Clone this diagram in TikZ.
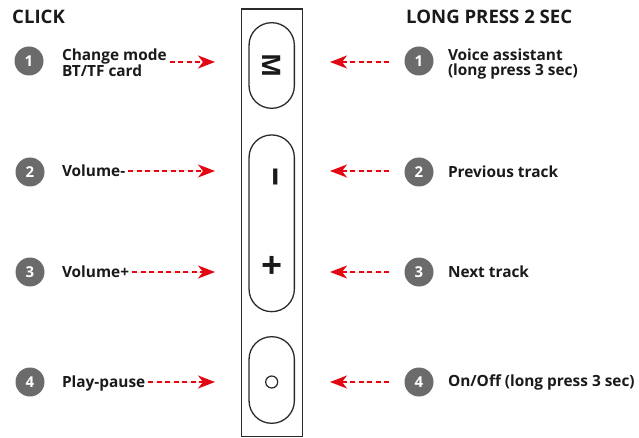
\documentclass[tikz,border=0pt]{standalone}
\usepackage{fontspec}
\setmainfont{Open Sans}
\usetikzlibrary{arrows.meta}
\definecolor{arrred}{HTML}{E30613}
\definecolor{dotgray}{HTML}{6B6B6B}
\definecolor{ink}{HTML}{1A1A1A}
\definecolor{frame}{HTML}{2B2B2B}

\begin{document}
\begin{tikzpicture}[x=1pt,y=-1pt,
  heading/.style={font=\bfseries\fontsize{18.6}{21}\selectfont, text=ink, inner sep=0, anchor=base west},
  label/.style={font=\bfseries\fontsize{15.4}{15.5}\selectfont, text=ink, inner sep=0, outer sep=3pt, anchor=west, align=left},
  badge/.style={circle, fill=dotgray, minimum size=29pt, inner sep=0, text=white, font=\bfseries\fontsize{15}{15}\selectfont},
  pointer/.style={draw=arrred, fill=arrred, line width=1.8pt, dash pattern=on 5pt off 3.5pt,
    -{Stealth[length=17pt,width=13pt,inset=5pt]}},
  button/.style={draw=frame, line width=1.3pt, rectangle, rounded corners=22.5pt, minimum width=45.3pt},
  glyph/.style={text=ink, inner sep=0}
]
\useasboundingbox (0,0) rectangle (639,438);

% device body
\draw[frame, line width=1.2pt] (241.3,9) rectangle (302.7,436.5);

% buttons
\node[button, minimum height=85.6pt] (bm) at (271.7,65.5) {};
\node[button, minimum height=176.7pt] (bvol) at (271.7,223.3) {};
\node[button, minimum height=86.6pt] (bpow) at (271.7,380) {};
\node[glyph, rotate=-90, font=\bfseries\fontsize{25.5}{25.5}\selectfont] (gm) at (271.7,66) {M};
\node[glyph, rotate=-90, font=\bfseries\fontsize{38}{38}\selectfont] (gminus) at (271.7,177) {–};
\node[glyph, font=\bfseries\fontsize{37}{37}\selectfont] (gplus) at (271.7,267) {+};
\node[draw=frame, line width=1.2pt, circle, minimum size=12pt, inner sep=0] (gpow) at (271.7,382) {};

% headings
\node[heading] (hclick) at (12,24) {CLICK};
\node[heading] (hlong) at (406,24) {LONG PRESS 2 SEC};

% left column
\node[badge] (n1) at (29,61) {1};
\node[badge] (n2) at (30,172) {2};
\node[badge] (n3) at (30,272) {3};
\node[badge] (n4) at (30,382) {4};
\node[label] (l1) at (59,62.5) {Change mode\\BT/TF card};
\node[label] (l2) at (59,171) {Volume-};
\node[label] (l3) at (59,272) {Volume+};
\node[label, text depth=0pt] (l4) at (59,382) {Play-pause};

\coordinate (t1) at (215,62);
\coordinate (t2) at (215,171);
\coordinate (t3) at (215,272);
\coordinate (t4) at (215,382);
\draw[pointer] (l1.east |- t1) -- (t1);
\draw[pointer] (l2.east |- t2) -- (t2);
\draw[pointer] (l3.east |- t3) -- (t3);
\draw[pointer] (l4.east |- t4) -- (t4);

% right column
\node[badge] (m1) at (419,61) {1};
\node[badge] (m2) at (419,172) {2};
\node[badge] (m3) at (419,272) {3};
\node[badge] (m4) at (419,382) {4};
\node[label] (r1) at (445,64) {Voice assistant\\(long press 3 sec)};
\node[label] (r2) at (445,171.5) {Previous track};
\node[label] (r3) at (445,272) {Next track};
\node[label] (r4) at (445,382) {On/Off (long press 3 sec)};

\coordinate (s1) at (389,62);
\coordinate (s2) at (389,171);
\coordinate (s3) at (389,272);
\coordinate (s4) at (389,382);
\coordinate (e1) at (330,62);
\coordinate (e2) at (330,171);
\coordinate (e3) at (330,272);
\coordinate (e4) at (330,382);
\draw[pointer] (s1) -- (e1);
\draw[pointer] (s2) -- (e2);
\draw[pointer] (s3) -- (e3);
\draw[pointer] (s4) -- (e4);
\end{tikzpicture}
\end{document}
